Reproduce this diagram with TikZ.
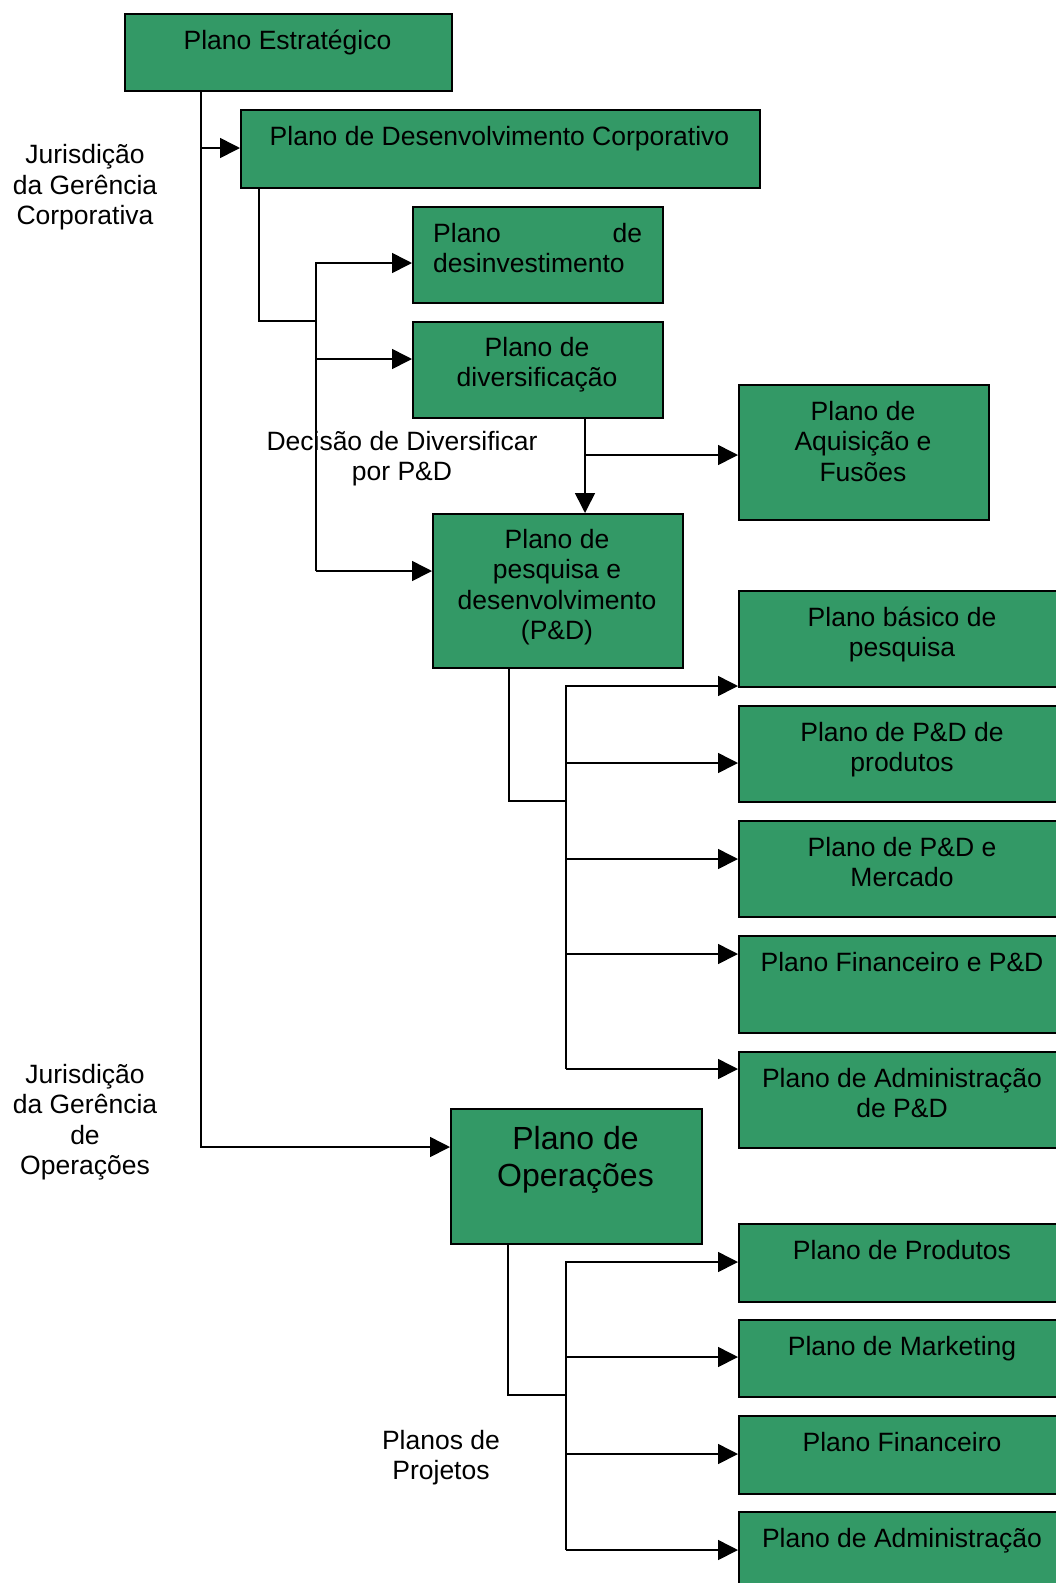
\documentclass[tikz,border=0pt]{standalone}
\usepackage{fontspec}
\setmainfont{Liberation Sans}
\usetikzlibrary{arrows.meta}
\definecolor{plgreen}{HTML}{339966}
\begin{document}
\begin{tikzpicture}[x=1pt,y=-1pt,
  box/.style={draw=black, fill=plgreen, line width=1.6pt, inner sep=0pt, anchor=north west},
  txt/.style={inner sep=0pt, align=center, anchor=base, font=\fontsize{26.5}{30.5}\selectfont},
  big/.style={txt, font=\fontsize{32}{37}\selectfont},
  conn/.style={line width=1.6pt},
  arr/.style={conn, -{Triangle[length=20pt,width=20pt]}}]
\useasboundingbox (0,0) rectangle (1056,1583);
\clip (0,0) rectangle (1056,1583);

% plan boxes
\node[box, minimum width=327pt, minimum height=77pt] (est) at (124,13) {};
\node[box, minimum width=519pt, minimum height=78pt] (dev) at (240,109) {};
\node[box, minimum width=250pt, minimum height=96pt] (desinv) at (412,206) {};
\node[box, minimum width=250pt, minimum height=96pt] (divers) at (412,321) {};
\node[box, minimum width=250pt, minimum height=135pt] (aquis) at (738,384) {};
\node[box, minimum width=250pt, minimum height=154pt] (pd) at (432,513) {};
\node[box, minimum width=328pt, minimum height=96pt] (bas) at (738,590) {};
\node[box, minimum width=328pt, minimum height=96pt] (prod) at (738,705) {};
\node[box, minimum width=328pt, minimum height=96pt] (merc) at (738,820) {};
\node[box, minimum width=328pt, minimum height=97pt] (fin) at (738,935) {};
\node[box, minimum width=328pt, minimum height=96pt] (adm) at (738,1051) {};
\node[box, minimum width=251pt, minimum height=135pt] (ops) at (450,1108) {};
\node[box, minimum width=328pt, minimum height=78pt] (oprod) at (738,1223) {};
\node[box, minimum width=328pt, minimum height=77pt] (mkt) at (738,1319) {};
\node[box, minimum width=328pt, minimum height=78pt] (ofin) at (738,1415) {};
\node[box, minimum width=328pt, minimum height=90pt] (oadm) at (738,1511) {};

% vertical rails of the connectors
\coordinate (trunk) at (201,0);
\coordinate (devx) at (259,0);
\coordinate (bus1) at (316,0);
\coordinate (dx) at (585,0);
\coordinate (pdx) at (509,0);
\coordinate (opx) at (508,0);
\coordinate (bus2) at (566,0);

% strategic plan
\draw[arr] (est.south -| trunk) |- (ops.west |- 0,1147);
\draw[arr] (trunk |- 0,148) -- (dev.west |- 0,148);

% corporate development
\draw[conn] (dev.south -| devx) |- (bus1 |- 0,321);
\draw[arr] (bus1 |- 0,571) |- (desinv.west |- 0,263);
\draw[arr] (bus1 |- 0,359) -- (divers.west |- 0,359);
\draw[arr] (bus1 |- 0,571) -- (pd.west |- 0,571);

% diversification
\draw[arr] (divers.south -| dx) -- (pd.north -| dx);
\draw[arr] (dx |- 0,455) -- (aquis.west |- 0,455);

% R&D
\draw[conn] (pd.south -| pdx) |- (bus2 |- 0,801);
\draw[arr] (bus2 |- 0,1069) |- (bas.west |- 0,686);
\draw[arr] (bus2 |- 0,763) -- (prod.west |- 0,763);
\draw[arr] (bus2 |- 0,859) -- (merc.west |- 0,859);
\draw[arr] (bus2 |- 0,954) -- (fin.west |- 0,954);
\draw[arr] (bus2 |- 0,1069) -- (adm.west |- 0,1069);

% operations
\draw[conn] (ops.south -| opx) |- (bus2 |- 0,1395);
\draw[arr] (bus2 |- 0,1550) |- (oprod.west |- 0,1262);
\draw[arr] (bus2 |- 0,1357) -- (mkt.west |- 0,1357);
\draw[arr] (bus2 |- 0,1454) -- (ofin.west |- 0,1454);
\draw[arr] (bus2 |- 0,1550) -- (oadm.west |- 0,1550);

% box texts (positions are the baselines of the last lines)
\node[txt] (t-est) at (287.5,49.5) {Plano Estratégico};
\node[txt] (t-dev) at (499.5,145) {Plano de Desenvolvimento Corporativo};
\node[txt, text width=209pt, align=left, anchor=base west] (t-desinv) at (433,242) {Plano\hfill de\\desinvestimento};
\node[txt] (t-divers) at (537,386.5) {Plano de\\diversificação};
\node[txt] (t-aquis) at (863,481) {Plano de\\Aquisição e\\Fusões};
\node[txt] (t-pd) at (557,639.5) {Plano de\\pesquisa e\\desenvolvimento\\(P\&D)};
\node[txt] (t-bas) at (902,656.5) {Plano básico de\\pesquisa};
\node[txt] (t-prod) at (902,771.5) {Plano de P\&D de\\produtos};
\node[txt] (t-merc) at (902,886.5) {Plano de P\&D e\\Mercado};
\node[txt] (t-fin) at (902,971) {Plano Financeiro e P\&D};
\node[txt] (t-adm) at (902,1117.5) {Plano de Administração\\de P\&D};
\node[big] (t-ops) at (575.5,1186) {Plano de\\Operações};
\node[txt] (t-oprod) at (902,1259) {Plano de Produtos};
\node[txt] (t-mkt) at (902,1355) {Plano de Marketing};
\node[txt] (t-ofin) at (902,1451) {Plano Financeiro};
\node[txt] (t-oadm) at (902,1547) {Plano de Administração};

% side labels
\node[txt] (l-corp) at (85,224.5) {Jurisdição\\da Gerência\\Corporativa};
\node[txt] (l-oper) at (85,1174.5) {Jurisdição\\da Gerência\\de\\Operações};
\node[txt] (l-dec) at (402,480.5) {Decisão de Diversificar\\por P\&D};
\node[txt] (l-proj) at (441,1479.5) {Planos de\\Projetos};
\end{tikzpicture}
\end{document}
